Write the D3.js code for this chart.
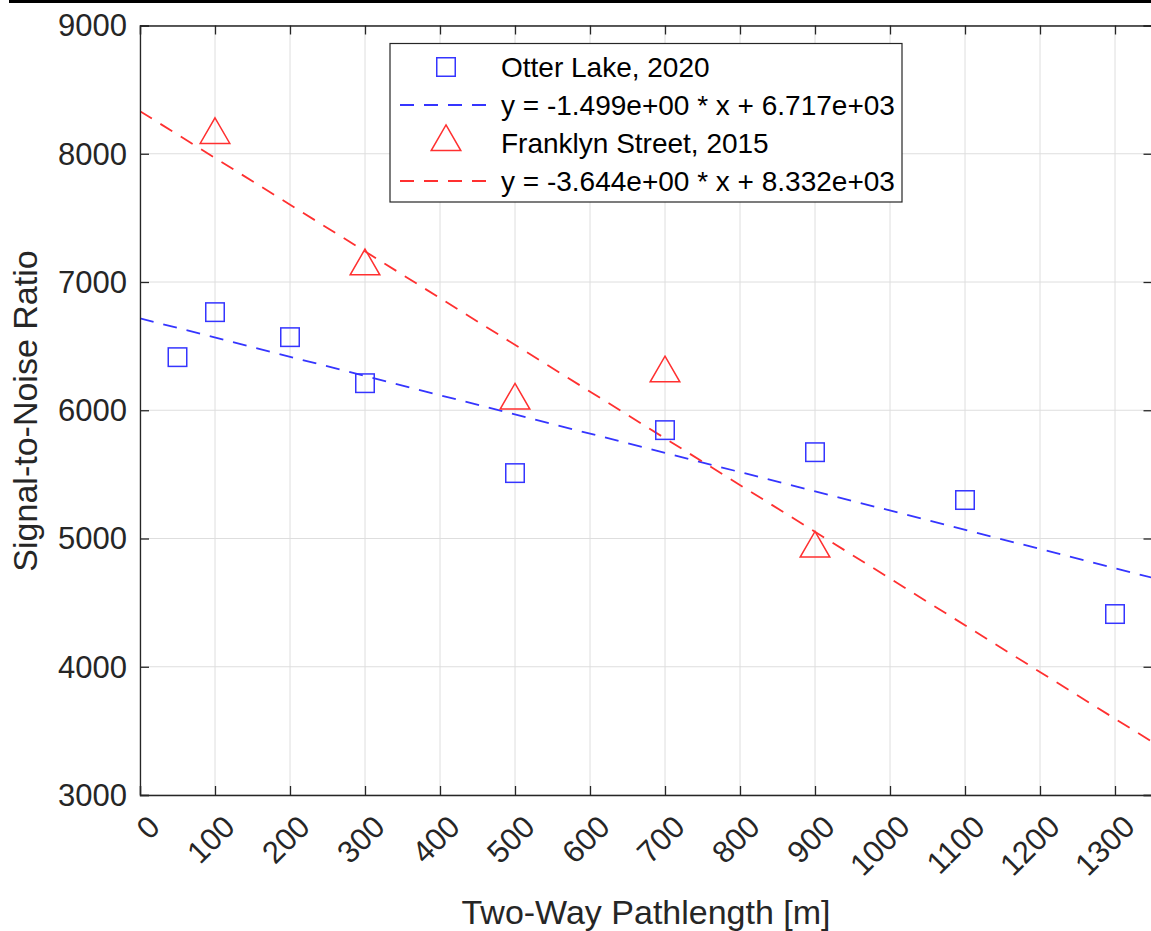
<html>
<head>
<script src="https://d3js.org/d3.v7.min.js"></script>
<style>
  body { margin: 0; background: #fff; }
  text { font-family: "Liberation Sans", Arial, sans-serif; fill: #262626; }
</style>
</head>
<body>
<script>
// Otter Lake, 2020
var otterX = [50, 100, 200, 300, 500, 700, 900, 1100, 1300];
var otterY = [6414, 6765, 6570, 6211, 5510, 5845, 5673, 5300, 4411];
// Franklyn Street, 2015
var franklynX = [100, 300, 500, 700, 900];
var franklynY = [8147, 7123, 6076, 6288, 4922];
// linear fits (slope, intercept) as printed in legend
var otterFit = [-1.499, 6717];
var franklynFit = [-3.644, 8332];
var legendLabels = ["Otter Lake, 2020", "y = -1.499e+00 * x + 6.717e+03",
                    "Franklyn Street, 2015", "y = -3.644e+00 * x + 8.332e+03"];
var xTicks = [0, 100, 200, 300, 400, 500, 600, 700, 800, 900, 1000, 1100, 1200, 1300];
var yTicks = [3000, 4000, 5000, 6000, 7000, 8000, 9000];

var W = 1151, H = 931;
var blue = "#3535ff", red = "#ff3030", axisCol = "#262626", gridCol = "#dedede";

var svg = d3.select("body").append("svg").attr("width", W).attr("height", H);

var xScale = d3.scaleLinear().domain([0, 1350]).range([140, 1152.5]);
var yScale = d3.scaleLinear().domain([3000, 9000]).range([795, 25.5]);
var x0 = 140, x1 = 1152.5, y0 = 795, y1 = 25.5;

// black strip at the top
svg.append("rect").attr("x", 9).attr("y", 0).attr("width", W - 9).attr("height", 3).attr("fill", "#000");

// grid
var grid = svg.append("g");
grid.selectAll(".gx").data(xTicks).enter().append("line")
  .attr("x1", function(d){ return xScale(d); }).attr("x2", function(d){ return xScale(d); })
  .attr("y1", y0).attr("y2", y1).attr("stroke", gridCol).attr("stroke-width", 1);
grid.selectAll(".gy").data(yTicks).enter().append("line")
  .attr("y1", function(d){ return yScale(d); }).attr("y2", function(d){ return yScale(d); })
  .attr("x1", x0).attr("x2", x1).attr("stroke", gridCol).attr("stroke-width", 1);

// clip for plot content
svg.append("clipPath").attr("id", "clip").append("rect")
  .attr("x", x0).attr("y", y1).attr("width", x1 - x0).attr("height", y0 - y1);
var plot = svg.append("g").attr("clip-path", "url(#clip)");

// fit lines
function fitLine(fit, col) {
  var dom = xScale.domain();
  var pts = dom.map(function(x){ return [x, fit[0] * x + fit[1]]; });
  plot.append("path")
    .attr("d", d3.line().x(function(d){ return xScale(d[0]); }).y(function(d){ return yScale(d[1]); })(pts))
    .attr("fill", "none").attr("stroke", col).attr("stroke-width", 1.8)
    .attr("stroke-dasharray", "14,10");
}
fitLine(otterFit, blue);
fitLine(franklynFit, red);

// markers
var sq = 18.5;
plot.selectAll(".sq").data(otterX).enter().append("rect")
  .attr("x", function(d){ return xScale(d) - sq / 2; })
  .attr("y", function(d, i){ return yScale(otterY[i]) - sq / 2; })
  .attr("width", sq).attr("height", sq)
  .attr("fill", "none").attr("stroke", blue).attr("stroke-width", 1.5);

var tri = d3.symbol().type(d3.symbolTriangle).size(380);
plot.selectAll(".tri").data(franklynX).enter().append("path")
  .attr("d", tri)
  .attr("transform", function(d, i){ return "translate(" + xScale(d) + "," + yScale(franklynY[i]) + ")"; })
  .attr("fill", "none").attr("stroke", red).attr("stroke-width", 1.5);

// axes box with inward ticks
var axBottom = d3.axisBottom(xScale).tickValues(xTicks).tickSize(-9).tickFormat("");
var axTop = d3.axisTop(xScale).tickValues(xTicks).tickSize(-9).tickFormat("");
var axLeft = d3.axisLeft(yScale).tickValues(yTicks).tickSize(-9).tickFormat("");
var axRight = d3.axisRight(yScale).tickValues(yTicks).tickSize(-9).tickFormat("");
[[axBottom, "translate(0," + y0 + ")"], [axTop, "translate(0," + y1 + ")"],
 [axLeft, "translate(" + x0 + ",0)"], [axRight, "translate(" + x1 + ",0)"]].forEach(function(a){
  var g = svg.append("g").attr("transform", a[1]).call(a[0]);
  g.select(".domain").attr("stroke", axisCol).attr("stroke-width", 1.3);
  g.selectAll(".tick line").attr("stroke", axisCol).attr("stroke-width", 1.3);
});

// tick labels
svg.selectAll(".xl").data(xTicks).enter().append("text")
  .attr("transform", function(d){ return "translate(" + (xScale(d) + 14) + "," + (y0 + 26) + ") rotate(-45)"; })
  .attr("text-anchor", "end").attr("dy", "0.35em")
  .attr("font-size", "31px").text(function(d){ return d; });
svg.selectAll(".yl").data(yTicks).enter().append("text")
  .attr("x", 127).attr("y", function(d){ return yScale(d); })
  .attr("text-anchor", "end").attr("dy", "0.35em")
  .attr("font-size", "31px").text(function(d){ return d; });

// axis titles
svg.append("text").attr("x", 646).attr("y", 924).attr("text-anchor", "middle")
  .attr("font-size", "34px").text("Two-Way Pathlength [m]");
svg.append("text").attr("transform", "translate(37,411) rotate(-90)").attr("text-anchor", "middle")
  .attr("font-size", "34px").text("Signal-to-Noise Ratio");

// legend
var lg = svg.append("g");
lg.append("rect").attr("x", 390).attr("y", 43.5).attr("width", 512).attr("height", 158.5)
  .attr("fill", "#fff").attr("stroke", axisCol).attr("stroke-width", 1.2);
var rowY = [67, 105, 143, 181];
lg.append("rect").attr("x", 446 - sq / 2).attr("y", rowY[0] - sq / 2).attr("width", sq).attr("height", sq)
  .attr("fill", "none").attr("stroke", blue).attr("stroke-width", 1.5);
lg.append("line").attr("x1", 400).attr("x2", 486).attr("y1", rowY[1]).attr("y2", rowY[1])
  .attr("stroke", blue).attr("stroke-width", 1.8).attr("stroke-dasharray", "14,10");
lg.append("path").attr("d", tri).attr("transform", "translate(446," + (rowY[2] - 1) + ")")
  .attr("fill", "none").attr("stroke", red).attr("stroke-width", 1.5);
lg.append("line").attr("x1", 400).attr("x2", 486).attr("y1", rowY[3]).attr("y2", rowY[3])
  .attr("stroke", red).attr("stroke-width", 1.8).attr("stroke-dasharray", "14,10");
lg.selectAll(".lt").data(legendLabels).enter().append("text")
  .attr("x", 501).attr("y", function(d, i){ return rowY[i]; }).attr("dy", "0.35em")
  .attr("font-size", "28px").style("fill", "#000").text(function(d){ return d; });
</script>
</body>
</html>
